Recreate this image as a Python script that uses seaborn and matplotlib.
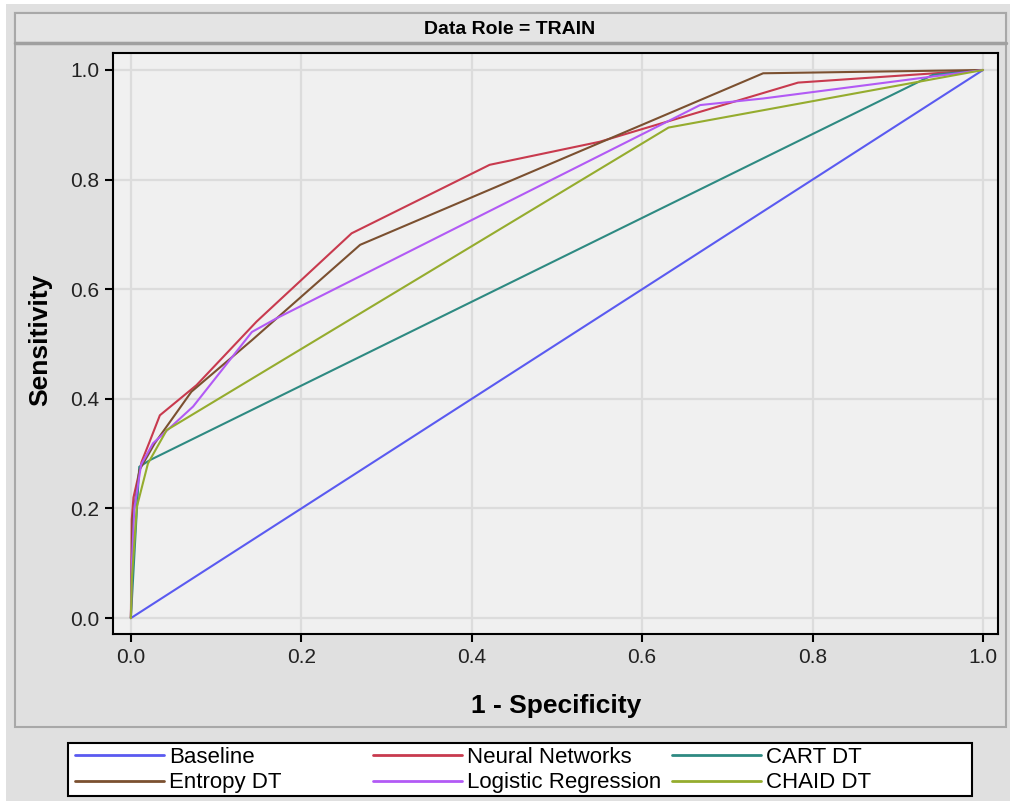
import numpy as np
import pandas as pd
import matplotlib
matplotlib.use("Agg")
import matplotlib.pyplot as plt
import seaborn as sns
from matplotlib.patches import Rectangle
from matplotlib.lines import Line2D

# ---------------- data ----------------
series_names = ["Baseline", "Neural Networks", "CART DT",
                "Entropy DT", "Logistic Regression", "CHAID DT"]

baseline_x = [0.0, 1.0]
baseline_y = [0.0, 1.0]

nn_x = [0.0, 0.001, 0.003, 0.0125, 0.022, 0.034, 0.077, 0.1475, 0.259, 0.421, 0.550, 0.783, 1.0]
nn_y = [0.0, 0.180, 0.220, 0.285, 0.322, 0.370, 0.425, 0.541, 0.702, 0.827, 0.869, 0.977, 1.0]

cart_x = [0.0, 0.0098, 0.022, 0.941, 1.0]
cart_y = [0.0, 0.276, 0.288, 0.991, 1.0]

entropy_x = [0.0, 0.002, 0.010, 0.028, 0.071, 0.142, 0.269, 0.742, 1.0]
entropy_y = [0.0, 0.180, 0.270, 0.319, 0.413, 0.507, 0.681, 0.994, 1.0]

logreg_x = [0.0, 0.001, 0.004, 0.012, 0.026, 0.073, 0.142, 0.171, 0.668, 0.742, 1.0]
logreg_y = [0.0, 0.094, 0.200, 0.280, 0.319, 0.386, 0.522, 0.547, 0.936, 0.948, 1.0]

chaid_x = [0.0, 0.001, 0.007, 0.020, 0.042, 0.631, 1.0]
chaid_y = [0.0, 0.069, 0.203, 0.282, 0.343, 0.895, 1.0]

tick_values = [0.0, 0.2, 0.4, 0.6, 0.8, 1.0]
tick_labels = ["0.0", "0.2", "0.4", "0.6", "0.8", "1.0"]

palette = {
    "Baseline": "#5A5AF0",
    "Neural Networks": "#C83A4E",
    "CART DT": "#2E8A82",
    "Entropy DT": "#7B5030",
    "Logistic Regression": "#B25AF5",
    "CHAID DT": "#95AC2E",
}

xs = [baseline_x, nn_x, cart_x, entropy_x, logreg_x, chaid_x]
ys = [baseline_y, nn_y, cart_y, entropy_y, logreg_y, chaid_y]
frames = []
for name, x, y in zip(series_names, xs, ys):
    frames.append(pd.DataFrame({"fpr": x, "tpr": y, "model": name}))
df = pd.concat(frames, ignore_index=True)

# ---------------- figure ----------------
sns.set_theme(style="white")
plt.rcParams['font.family'] = ['Liberation Sans', 'DejaVu Sans']

W, H = 1010, 801
fig = plt.figure(figsize=(W / 100, H / 100), dpi=100, facecolor="#E0E0E0")

def fx(px):
    return px / W

def fy(py):
    return 1 - py / H

# white strips at top and left
fig.patches.append(Rectangle((0, fy(4)), 1, 4 / H, transform=fig.transFigure,
                             facecolor="white", edgecolor="none", zorder=-3))
fig.patches.append(Rectangle((0, 0), 6 / W, 1, transform=fig.transFigure,
                             facecolor="white", edgecolor="none", zorder=-3))
# panel border
fig.patches.append(Rectangle((fx(15), fy(727)), (1006 - 15) / W, (727 - 13) / H,
                             transform=fig.transFigure, facecolor="#E0E0E0",
                             edgecolor="#A8A8A8", linewidth=1.5, zorder=-2))
# header strip
fig.patches.append(Rectangle((fx(15), fy(43)), (1006 - 15) / W, (43 - 13) / H,
                             transform=fig.transFigure, facecolor="#E4E4E4",
                             edgecolor="#A8A8A8", linewidth=1.5, zorder=-1.5))
fig.lines.append(Line2D([fx(15), fx(1006)], [fy(43), fy(43)], transform=fig.transFigure,
                        color="#A0A0A0", linewidth=2.5, zorder=-1.4))
fig.text(fx(510), fy(29), "Data Role = TRAIN", ha="center", va="center",
         fontsize=14, fontweight="bold", color="black")

# axes
ax = fig.add_axes([fx(113), fy(634), (998 - 113) / W, (634 - 53) / H])
ax.set_zorder(5)
ax.set_facecolor("#F0F0F0")

sns.lineplot(data=df, x="fpr", y="tpr", hue="model", hue_order=series_names,
             palette=palette, sort=False, estimator=None,
             linewidth=1.5, ax=ax)

ax.set_xlim(-0.021, 1.0176)
ax.set_ylim(-0.029, 1.031)
ax.set_xticks(tick_values)
ax.set_xticklabels(tick_labels)
ax.set_yticks(tick_values)
ax.set_yticklabels(tick_labels)
ax.grid(True, color="#DCDCDC", linewidth=1.6)
ax.set_axisbelow(True)
for s in ax.spines.values():
    s.set_color("black")
    s.set_linewidth(1.5)
ax.tick_params(direction="out", length=6, width=1.5, color="black",
               labelsize=15, pad=4, labelcolor="#222222",
               bottom=True, left=True)
ax.set_xlabel("")
ax.set_ylabel("")

fig.text(fx(556), fy(706), "1 - Specificity", ha="center", va="center",
         fontsize=19, fontweight="bold", color="black")
fig.text(fx(40), fy(340), "Sensitivity", ha="center", va="center",
         fontsize=19, fontweight="bold", rotation=90, color="black")

# legend
if ax.get_legend() is not None:
    ax.get_legend().remove()

fig.patches.append(Rectangle((fx(68), fy(796)), (972 - 68) / W, (796 - 743) / H,
                             transform=fig.transFigure, facecolor="white",
                             edgecolor="black", linewidth=1.5, zorder=1))

columns = [["Baseline", "Entropy DT"],
           ["Neural Networks", "Logistic Regression"],
           ["CART DT", "CHAID DT"]]
col_x = [75, 373, 672]
for names, cx in zip(columns, col_x):
    hs = [Line2D([], [], color=palette[n], linewidth=2) for n in names]
    leg = fig.legend(hs, names, loc="upper left",
                     bbox_to_anchor=(fx(cx), fy(747)),
                     bbox_transform=fig.transFigure,
                     frameon=False, fontsize=16, handlelength=4.0,
                     handletextpad=0.23, labelspacing=0.2,
                     borderpad=0, borderaxespad=0)
    leg.set_zorder(6)
    for t in leg.get_texts():
        t.set_color("black")

fig.savefig("out.png", dpi=100, facecolor=fig.get_facecolor())
